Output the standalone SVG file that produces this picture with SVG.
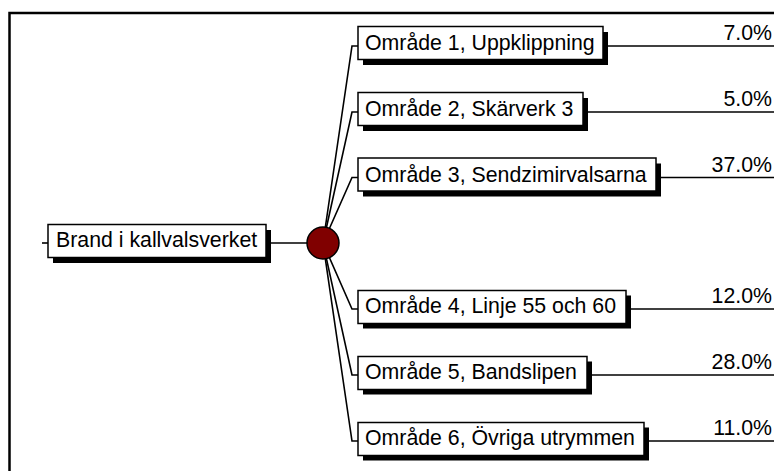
<svg xmlns="http://www.w3.org/2000/svg" width="774" height="471" viewBox="0 0 774 471">
  <style>
    .frame { fill: none; stroke: #000; stroke-width: 2.5; }
    .wire { fill: none; stroke: #000; stroke-width: 1.6; }
    .shadow { fill: #000; }
    .box { fill: #fff; stroke: #000; stroke-width: 1.5; }
    .label { font-family: "Liberation Sans", Arial, sans-serif; font-size: 21.3px; fill: #000; }
    .pct { text-anchor: end; }
    .chance { fill: #800000; stroke: #000; stroke-width: 1.5; }
  </style>
  <rect width="774" height="471" fill="#fff"/>
  <!-- outer frame: top and left rules -->
  <path class="frame" d="M9.5 471 V13 H774"/>

  <!-- connectors -->
  <g id="connectors">
    <path class="wire" d="M42 243 H48"/>
    <path class="wire" d="M266 243 H323"/>
    <path class="wire" d="M323 243 L352 46 H358"/>
    <path class="wire" d="M323 243 L352 112 H358"/>
    <path class="wire" d="M323 243 L352 177.5 H358"/>
    <path class="wire" d="M323 243 L352 309 H358"/>
    <path class="wire" d="M323 243 L352 375 H358"/>
    <path class="wire" d="M323 243 L352 441 H358"/>
    <path class="wire" d="M603 46 H774"/>
    <path class="wire" d="M583 112 H774"/>
    <path class="wire" d="M656 177.5 H774"/>
    <path class="wire" d="M626 309 H774"/>
    <path class="wire" d="M587 375 H774"/>
    <path class="wire" d="M644 441 H774"/>
  </g>

  <g id="root">
    <rect class="shadow" x="53" y="230" width="218" height="33"/>
    <rect class="box" x="48" y="224.5" width="218" height="33"/>
    <text class="label" x="56" y="247">Brand i kallvalsverket</text>
  </g>

  <g id="chance">
    <circle class="chance" cx="323" cy="243" r="16"/>
  </g>

  <g id="area1">
    <rect class="shadow" x="363" y="32" width="245" height="33"/>
    <rect class="box" x="358" y="26.5" width="245" height="33"/>
    <text class="label" x="365" y="50">Område 1, Uppklippning</text>
    <text class="label pct" x="772" y="40">7.0%</text>
  </g>

  <g id="area2">
    <rect class="shadow" x="363" y="98" width="225" height="33"/>
    <rect class="box" x="358" y="92.5" width="225" height="33"/>
    <text class="label" x="365" y="116">Område 2, Skärverk 3</text>
    <text class="label pct" x="772" y="106">5.0%</text>
  </g>

  <g id="area3">
    <rect class="shadow" x="363" y="163.5" width="298" height="33"/>
    <rect class="box" x="358" y="158" width="298" height="33"/>
    <text class="label" x="365" y="181.5">Område 3, Sendzimirvalsarna</text>
    <text class="label pct" x="772" y="171.5">37.0%</text>
  </g>

  <g id="area4">
    <rect class="shadow" x="363" y="295.5" width="268" height="33"/>
    <rect class="box" x="358" y="290.5" width="268" height="33"/>
    <text class="label" x="365" y="313">Område 4, Linje 55 och 60</text>
    <text class="label pct" x="772" y="303">12.0%</text>
  </g>

  <g id="area5">
    <rect class="shadow" x="363" y="361.5" width="229" height="33"/>
    <rect class="box" x="358" y="356.5" width="229" height="33"/>
    <text class="label" x="365" y="379">Område 5, Bandslipen</text>
    <text class="label pct" x="772" y="369">28.0%</text>
  </g>

  <g id="area6">
    <rect class="shadow" x="363" y="427.5" width="286" height="33"/>
    <rect class="box" x="358" y="422.5" width="286" height="33"/>
    <text class="label" x="365" y="445">Område 6, Övriga utrymmen</text>
    <text class="label pct" x="772" y="435">11.0%</text>
  </g>
</svg>
